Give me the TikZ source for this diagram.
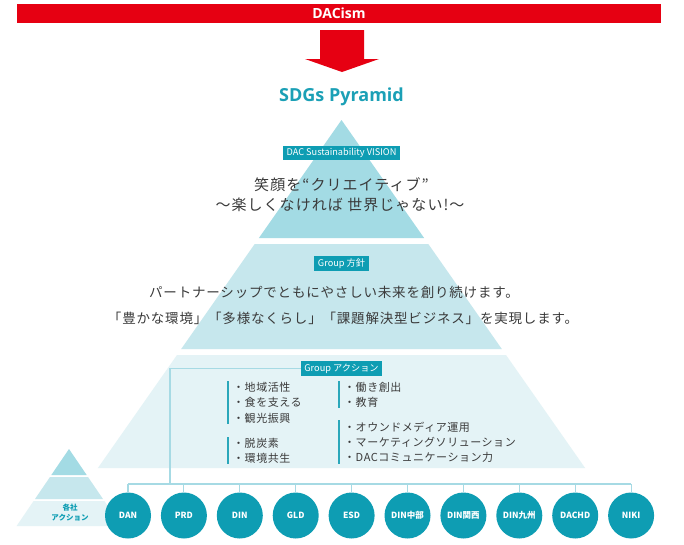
\documentclass[tikz,border=0pt]{standalone}
\usepackage{fontspec}
\setmainfont{Noto Sans CJK JP}
\newfontfamily\jp{Noto Sans CJK JP}
\newfontfamily\jpv[LetterSpace=7]{Noto Sans CJK JP}
\newfontfamily\jpp[LetterSpace=6]{Noto Sans CJK JP}
\newfontfamily\jpa[LetterSpace=5]{Noto Sans CJK JP}
\newfontfamily\lat{Open Sans}
\definecolor{dacred}{HTML}{E60012}
\definecolor{tealdark}{HTML}{0E9DB3}
\definecolor{titleteal}{HTML}{1BA0B6}
\definecolor{lay1}{HTML}{A3DBE4}
\definecolor{lay2}{HTML}{C6E7ED}
\definecolor{lay3}{HTML}{E4F3F6}
\definecolor{connc}{HTML}{A6DAE4}
\definecolor{barc}{HTML}{2AA7BA}
\definecolor{txt}{HTML}{3A3A3A}
\begin{document}
\begin{tikzpicture}[x=1pt,y=-1pt,
  lbl/.style={fill=tealdark,text=white,inner xsep=3.5pt,inner ysep=2.3pt,font=\jp\fontsize{9.2}{9.5}\selectfont},
  vtext/.style={text=txt,font=\jpv\fontsize{15}{15}\selectfont},
  ptext/.style={text=txt,font=\jpp\fontsize{13.5}{14}\selectfont},
  atext/.style={text=txt,anchor=west,inner sep=0pt,font=\jpa\fontsize{11}{11}\selectfont},
  listbar/.style={draw=barc,line width=1.8pt},
  conn/.style={draw=connc,line width=1.1pt},
  comp/.style={circle,fill=tealdark,minimum size=46pt,inner sep=0pt,text=white,font=\jp\bfseries\fontsize{8.5}{9}\selectfont}]
\useasboundingbox (0,0) rectangle (684,544);
\fill[white] (0,0) rectangle (684,544);
% top bar and arrow
\node[fill=dacred,minimum width=644pt,minimum height=19pt,inner sep=0pt,text=white,font=\lat\bfseries\fontsize{14}{14}\selectfont] (bar) at (339,13.5) {DACism};
\fill[dacred] (320,30) -- (364,30) -- (364,59) -- (379,59) -- (342,72) -- (305,59) -- (320,59) -- cycle;
\node[text=titleteal,font=\lat\bfseries\fontsize{18}{19}\selectfont] (title) at (341.5,97) {SDGs Pyramid};
% pyramid layers
\fill[lay1] (341.5,120) -- (424.1,238) -- (258.9,238) -- cycle;
\fill[lay2] (254.7,244) -- (428.3,244) -- (501.8,349) -- (181.2,349) -- cycle;
\fill[lay3] (177,355) -- (506,355) -- (585.1,468) -- (97.9,468) -- cycle;
% small pyramid
\fill[lay1] (69,449) -- (86.7,475) -- (51.3,475) -- cycle;
\fill[lay2] (50,477) -- (88,477) -- (103,499) -- (35,499) -- cycle;
\fill[lay3] (33.6,501) -- (104.4,501) -- (121.4,526) -- (16.6,526) -- cycle;
\node[text=tealdark,align=center,font=\jp\bfseries\fontsize{7.5}{10.5}\selectfont] (each) at (70,512.5) {各社\\アクション};
% labels
\node[lbl] (vis) at (341.5,153) {DAC Sustainability VISION};
\node[lbl] (pol) at (341.5,263.5) {Group 方針};
\node[lbl] (act) at (341.5,368.5) {Group アクション};
% vision texts
\node[vtext] (v1) at (341.5,185) {笑顔を“クリエイティブ”};
\node[vtext] (v2) at (340,205) {〜楽しくなければ 世界じゃない!〜};
% policy texts
\node[ptext] (p1) at (334,292) {パートナーシップでともにやさしい未来を創り続けます。};
\node[ptext] (p2) at (343,318) {「豊かな環境」「多様なくらし」「課題解決型ビジネス」を実現します。};
% action lists
\draw[listbar] (228,381) -- (228,424);
\draw[listbar] (228,437) -- (228,464);
\draw[listbar] (339,381) -- (339,408);
\draw[listbar] (339,420) -- (339,464);
\node[atext] (a1) at (233,387) {・地域活性};
\node[atext] (a2) at (233,402.5) {・食を支える};
\node[atext] (a3) at (233,418) {・観光振興};
\node[atext] (a4) at (233,443) {・脱炭素};
\node[atext] (a5) at (233,458) {・環境共生};
\node[atext] (b1) at (344,387) {・働き創出};
\node[atext] (b2) at (344,402.5) {・教育};
\node[atext] (b3) at (344,427) {・オウンドメディア運用};
\node[atext] (b4) at (344,442) {・マーケティングソリューション};
\node[atext] (b5) at (344,457) {・DACコミュニケーション力};
% companies
\foreach \i/\nm/\lab in {0/c1/DAN,1/c2/PRD,2/c3/DIN,3/c4/GLD,4/c5/ESD,5/c6/DIN中部,6/c7/DIN関西,7/c8/DIN九州,8/c9/DACHD,9/c10/NIKI}{
  \node[comp] (\nm) at ({128+55.9*\i},515.5) {\lab};
}
\coordinate (bus) at (0,484);
\coordinate (corner) at (170,368.5);
\draw[conn] (act.west) -- (corner) -- (corner |- bus);
\draw[conn] (c1.north |- bus) -- (c10.north |- bus);
\foreach \nm in {c1,c2,c3,c4,c5,c6,c7,c8,c9,c10}{
  \draw[conn] (\nm.north |- bus) -- (\nm.north);
}
\end{tikzpicture}
\end{document}
